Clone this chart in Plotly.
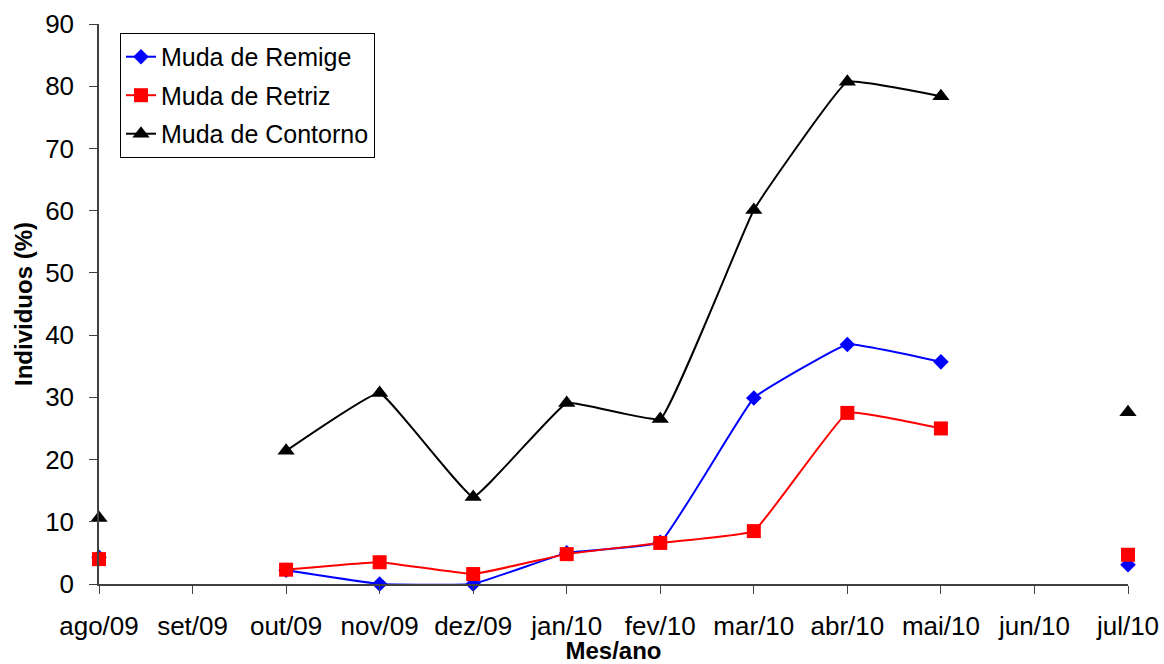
import plotly.graph_objects as go

# Meses de amostragem
meses = ["ago/09", "set/09", "out/09", "nov/09", "dez/09", "jan/10",
         "fev/10", "mar/10", "abr/10", "mai/10", "jun/10", "jul/10"]

# Porcentagem de indivíduos em muda (None = mês sem amostragem)
remige = [4.3, None, 2.2, 0.0, 0.0, 5.0, 6.7, 29.9, 38.5, 35.7, None, 3.1]
retriz = [4.0, None, 2.3, 3.5, 1.6, 4.8, 6.6, 8.5, 27.5, 25.0, None, 4.7]
contorno = [10.6, None, 21.4, 30.7, 14.0, 29.1, 26.5, 60.1, 80.7, 78.4, None, 27.6]

x = list(range(len(meses)))

series = [
    ("Muda de Remige", remige, "#0000ff", "diamond", 12),
    ("Muda de Retriz", retriz, "#ff0000", "square", 14),
    ("Muda de Contorno", contorno, "#000000", "triangle-up", 15),
]

fig = go.Figure()
for nome, vals, cor, simbolo, tam in series:
    fig.add_trace(go.Scatter(
        x=x, y=vals, name=nome, legendgroup=nome, mode="lines+markers",
        line=dict(color=cor, width=2, shape="spline", smoothing=0.25),
        marker=dict(symbol=simbolo, size=tam, color=cor),
        connectgaps=False, cliponaxis=False,
    ))

fig.update_layout(
    width=1164, height=664,
    margin=dict(l=99, r=36, t=24, b=80),
    paper_bgcolor="white", plot_bgcolor="white",
    font=dict(family="Arial, Liberation Sans, sans-serif", color="black"),
    showlegend=True,
    legend=dict(
        x=0.0204, y=0.984, xanchor="left", yanchor="top",
        bordercolor="black", borderwidth=1, bgcolor="white",
        font=dict(size=25), traceorder="grouped", tracegroupgap=3,
    ),
)

fig.update_xaxes(
    range=[0, 11], tickvals=x, ticktext=meses, automargin=False,
    showgrid=False, zeroline=False,
    showline=True, linecolor="#404040", linewidth=1.5,
    ticks="outside", ticklen=8, tickcolor="#404040",
    tickfont=dict(size=26), ticklabelstandoff=10,
    title=dict(text="<b>Mes/ano</b>", font=dict(size=24), standoff=2),
)
fig.update_yaxes(
    range=[0, 90], dtick=10, automargin=False,
    showgrid=False, zeroline=False,
    showline=True, linecolor="#404040", linewidth=1.5,
    ticks="outside", ticklen=8, tickcolor="#404040",
    tickfont=dict(size=26), ticklabelstandoff=10,
    title=dict(text="<b>Individuos (%)</b>", font=dict(size=24), standoff=6),
)

fig.write_html("out.html")
